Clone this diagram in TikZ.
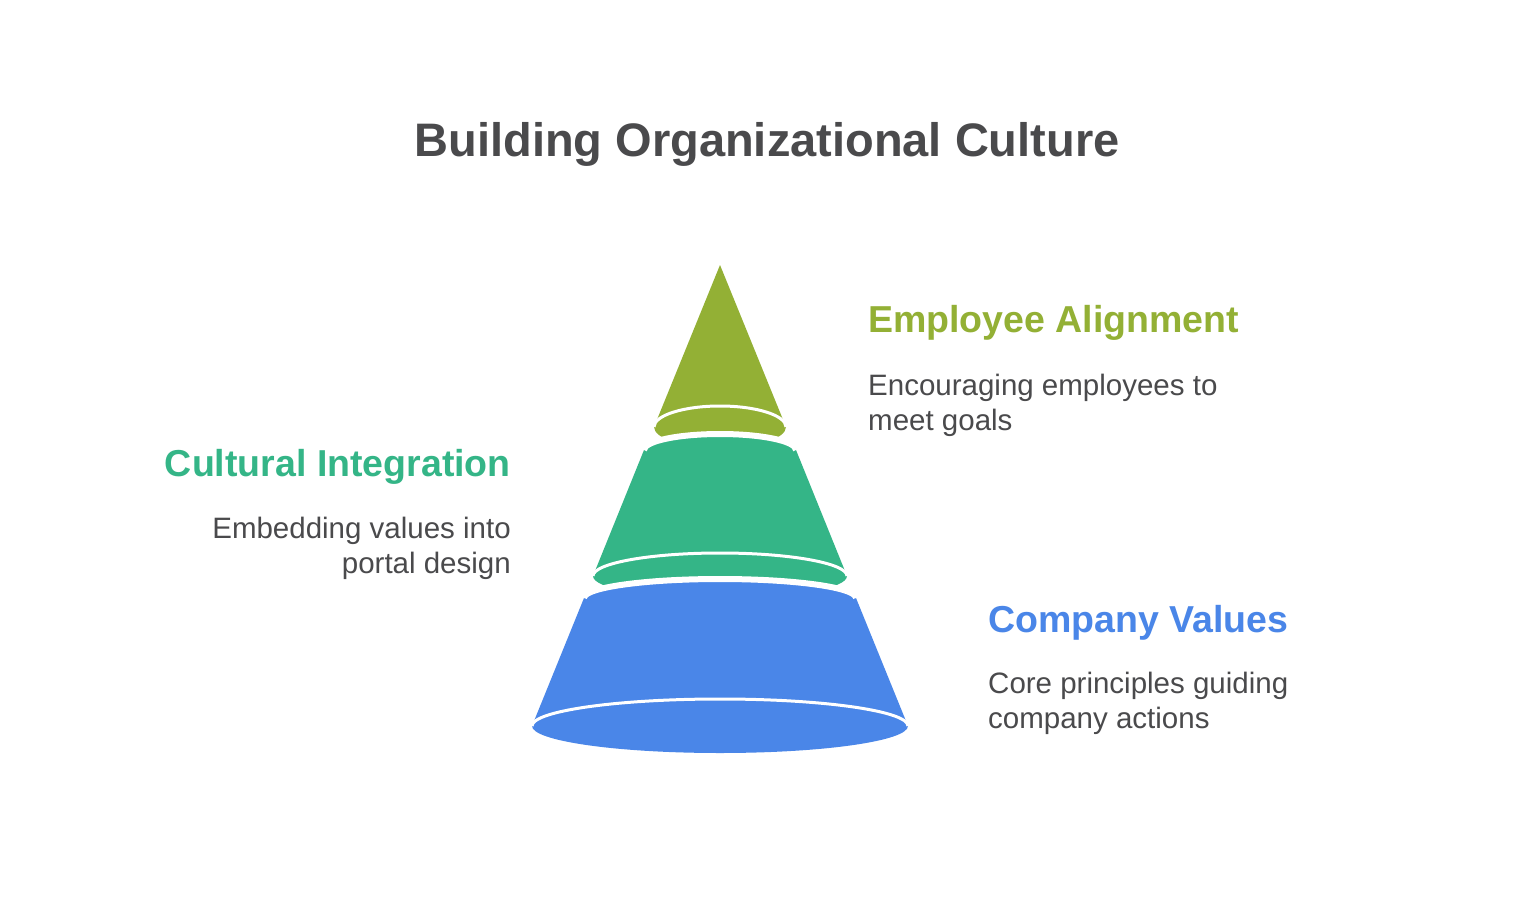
\documentclass[tikz,border=0pt]{standalone}
\usepackage{fontspec}
\setmainfont{Liberation Sans}
\usetikzlibrary{positioning}

\definecolor{olive}{HTML}{93B035}
\definecolor{jade}{HTML}{34B587}
\definecolor{azure}{HTML}{4A86E8}
\definecolor{ink}{HTML}{4A4A4C}

\tikzstyle{heading}=[inner sep=0pt, font=\fontsize{37.5}{44}\selectfont\bfseries]
\tikzstyle{body}=[inner sep=0pt, text=ink, align=left,
                  font=\fontsize{29.5}{35}\selectfont]
\tikzstyle{gap}=[draw=white, line width=6pt]
\tikzstyle{seam}=[draw=white, line width=3pt]

\begin{document}
\begin{tikzpicture}[x=1pt,y=-1pt]
    \useasboundingbox[fill=white] (0,0) rectangle (1536,912);

    % tiers, drawn from the top down so each gap arc bites into the one above
    \fill[olive] (720,265) -- (786,427)
        arc[start angle=0, end angle=180, x radius=66, y radius=21] -- cycle;
    \fill[jade] (644,450)
        arc[start angle=180, end angle=360, x radius=76, y radius=16]
        -- (847,576)
        arc[start angle=0, end angle=180, x radius=127, y radius=23] -- cycle;
    \draw[gap] (644,450)
        arc[start angle=180, end angle=360, x radius=76, y radius=16];
    \fill[azure] (584,598)
        arc[start angle=180, end angle=360, x radius=136, y radius=19]
        -- (908,726)
        arc[start angle=0, end angle=180, x radius=188, y radius=27] -- cycle;
    \draw[gap] (584,598)
        arc[start angle=180, end angle=360, x radius=136, y radius=19];

    % white seams over the bottom rim of each tier
    \foreach \cy/\rx/\ry in {427/66/21, 576/127/23, 726/188/27}
        \draw[seam] (720-\rx,\cy)
            arc[start angle=180, end angle=360, x radius=\rx, y radius=\ry];

    \node[anchor=base, inner sep=0pt, text=ink,
          font=\fontsize{47}{56}\selectfont\bfseries] (title) at (767,157)
        {Building Organizational Culture};

    % multi-line nodes sit on the baseline of their last line
    \node[heading, text=olive, anchor=base west] (align-head) at (868,332)
        {Employee Alignment};
    \node[body, anchor=base west] (align-text) at (868,430)
        {Encouraging employees to\\meet goals};

    \node[heading, text=jade, anchor=base east] (integ-head) at (511,476)
        {Cultural Integration};
    \node[body, align=right, anchor=base east] (integ-text) at (511,573)
        {Embedding values into\\portal design};

    \node[heading, text=azure, anchor=base west] (values-head) at (988,632)
        {Company Values};
    \node[body, anchor=base west] (values-text) at (988,728)
        {Core principles guiding\\company actions};
\end{tikzpicture}
\end{document}
